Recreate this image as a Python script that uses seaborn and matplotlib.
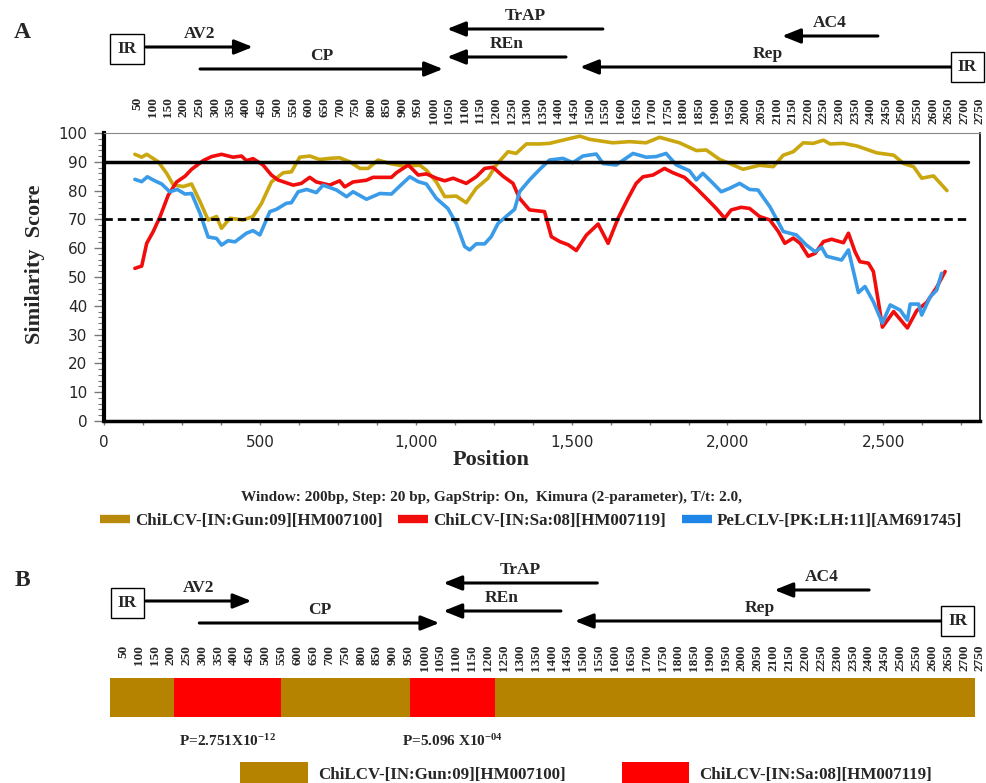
import pandas as pd
import seaborn as sns
import matplotlib.pyplot as plt
from matplotlib.lines import Line2D
from matplotlib.patches import Patch
from matplotlib.ticker import MultipleLocator, FuncFormatter

# similarity plot data (position, score)
gold_pos = [99, 121, 137, 174, 201, 222, 254, 281, 308, 334, 361, 377, 404, 446, 478, 505, 537, 575, 601, 628,
            660, 692, 724, 756, 788, 821, 847, 879, 917, 960, 1013, 1034, 1066, 1093, 1130, 1162, 1194, 1232, 1258, 1296,
            1322, 1355, 1397, 1429, 1483, 1526, 1558, 1632, 1686, 1739, 1782, 1846, 1900, 1932, 1975, 2007, 2050, 2103, 2147, 2179,
            2211, 2243, 2275, 2308, 2329, 2372, 2415, 2479, 2533, 2565, 2597, 2623, 2661, 2704]
gold_score = [92.6, 91.6, 92.6, 90.0, 86.0, 82.0, 81.4, 82.3, 76.2, 69.8, 71.0, 66.9, 70.4, 69.8, 71.0, 75.5, 83.0, 86.2, 86.5, 91.6,
              92.0, 90.8, 91.2, 91.4, 90.0, 87.7, 87.7, 90.6, 89.4, 88.5, 88.8, 87.1, 83.0, 77.9, 78.1, 75.8, 80.8, 84.3, 88.9, 93.5,
              92.9, 96.2, 96.2, 96.4, 97.8, 98.9, 97.8, 96.6, 97.0, 96.6, 98.5, 96.6, 93.9, 94.1, 90.8, 89.4, 87.4, 88.8, 88.3, 92.3,
              93.5, 96.6, 96.4, 97.5, 96.2, 96.4, 95.5, 93.1, 92.3, 89.4, 88.3, 84.3, 85.1, 80.0]

red_pos = [99, 121, 137, 158, 180, 206, 233, 260, 281, 318, 345, 377, 414, 441, 457, 478, 510, 537, 558, 607,
           633, 660, 681, 724, 756, 772, 799, 842, 863, 922, 938, 976, 1008, 1034, 1066, 1093, 1120, 1162, 1194, 1221,
           1248, 1280, 1312, 1333, 1365, 1413, 1435, 1462, 1489, 1515, 1547, 1585, 1617, 1649, 1681, 1707, 1729, 1761, 1798, 1825,
           1862, 1900, 1937, 1964, 1991, 2012, 2044, 2071, 2103, 2136, 2163, 2184, 2211, 2233, 2259, 2281, 2308, 2334, 2372, 2388,
           2409, 2425, 2452, 2468, 2484, 2497, 2533, 2577, 2607, 2639, 2671, 2698]
red_score = [53.0, 53.8, 61.7, 65.8, 71.0, 78.4, 83.0, 85.0, 87.4, 90.4, 91.8, 92.6, 91.6, 92.0, 90.4, 91.1, 88.9, 85.4, 83.7, 81.9,
             82.5, 84.6, 83.0, 81.9, 83.4, 81.3, 83.0, 83.6, 84.6, 84.6, 86.2, 88.9, 85.4, 85.8, 84.3, 83.4, 84.3, 82.5, 84.8, 87.7,
             88.1, 85.0, 82.5, 77.3, 73.3, 72.7, 64.0, 62.3, 61.2, 59.2, 64.5, 68.4, 61.7, 70.4, 77.3, 82.5, 84.8, 85.4, 87.7, 86.2,
             84.6, 80.8, 76.8, 73.8, 70.4, 73.3, 74.2, 73.8, 71.0, 69.8, 65.8, 61.7, 63.5, 61.7, 57.2, 58.2, 62.3, 63.1, 61.9, 65.2,
             58.8, 55.3, 54.8, 51.9, 41.4, 32.6, 38.0, 32.3, 38.3, 41.2, 46.4, 51.9]

blue_pos = [99, 121, 139, 163, 185, 211, 235, 260, 281, 308, 334, 361, 377, 398, 420, 457, 478, 500, 532, 553,
            585, 601, 623, 650, 681, 703, 746, 778, 799, 842, 885, 922, 949, 981, 1008, 1034, 1066, 1103, 1130, 1157,
            1173, 1194, 1221, 1242, 1264, 1290, 1317, 1333, 1365, 1397, 1429, 1472, 1504, 1536, 1579, 1601, 1643, 1697, 1739, 1771,
            1803, 1836, 1878, 1900, 1921, 1954, 1980, 2007, 2039, 2071, 2098, 2136, 2179, 2221, 2253, 2281, 2302, 2318, 2366, 2388,
            2420, 2441, 2468, 2497, 2522, 2554, 2577, 2586, 2613, 2623, 2650, 2671, 2687]
blue_score = [83.9, 83.1, 84.8, 83.4, 82.3, 79.6, 80.4, 78.8, 79.0, 72.1, 63.9, 63.4, 61.1, 62.6, 62.2, 65.2, 66.1, 64.6, 72.7, 73.5,
              75.6, 75.8, 79.6, 80.4, 79.3, 81.9, 80.2, 77.9, 79.6, 77.0, 79.0, 78.8, 81.6, 84.8, 83.1, 82.3, 77.3, 73.8, 68.6, 60.6,
              59.4, 61.5, 61.5, 64.0, 68.6, 71.0, 73.5, 79.6, 83.7, 87.3, 90.6, 91.2, 89.7, 92.0, 92.7, 89.4, 88.9, 92.9, 91.6, 91.8,
              92.9, 88.9, 86.9, 83.7, 86.0, 82.5, 79.6, 80.8, 82.5, 80.4, 80.2, 74.4, 65.8, 64.6, 61.1, 58.8, 60.3, 57.2, 55.9, 59.4,
              44.6, 46.7, 41.4, 34.0, 40.3, 38.5, 35.0, 40.6, 40.6, 36.8, 43.1, 45.4, 51.3]

series_names = ['ChiLCV-[IN:Gun:09][HM007100]', 'ChiLCV-[IN:Sa:08][HM007119]', 'PeLCLV-[PK:LH:11][AM691745]']
series_colors = ['#cba70f', '#f20d0d', '#3a9be8']
legend_colors = ['#b8890a', '#f20d0d', '#1f85e6']
thresholds = [90, 70]

# genome map: gene name, start, end (nt), row
gene_names = ['AV2', 'CP', 'TrAP', 'REn', 'Rep', 'AC4']
gene_start = [79, 252, 1542, 1424, 2670, 2423]
gene_end = [421, 1030, 1043, 1043, 1469, 2116]
gene_row = [47, 69, 29, 57, 67, 36]
ir_center = [18, 2710]
ir_row = [49, 67]
map_ticks = list(range(50, 2800, 50))

# recombination detection bar (panel B)
seg_start = [9, 211, 548, 954, 1222]
seg_end = [211, 548, 954, 1222, 2734]
seg_parent = [0, 1, 0, 1, 0]
bar_colors = ['#b58300', '#ff0000']
pvals = ['P=2.751X10$^{\\mathrm{-12}}$', 'P=5.096 X10$^{\\mathrm{-04}}$']
pval_seg = [1, 3]

sns.set_style('white')
plt.rcParams['font.family'] = ['Liberation Serif', 'DejaVu Serif']
plt.rcParams['font.weight'] = 'bold'
plt.rcParams['mathtext.fontset'] = 'custom'
plt.rcParams['mathtext.rm'] = 'Liberation Serif:bold'
plt.rcParams['mathtext.it'] = 'Liberation Serif:bold:italic'
plt.rcParams['mathtext.bf'] = 'Liberation Serif:bold'

W, H = 987, 783
fig = plt.figure(figsize=(W / 100, H / 100), dpi=100)


def box(x0, y0, x1, y1):
    return [x0 / W, 1 - y1 / H, (x1 - x0) / W, (y1 - y0) / H]


def draw_map(ax):
    ax.set_xlim(50, 2750)
    ax.set_ylim(125, 0)
    ax.axis('off')
    for name, s, e, r in zip(gene_names, gene_start, gene_end, gene_row):
        ax.annotate('', xy=(e, r), xytext=(s, r), annotation_clip=False,
                    arrowprops=dict(arrowstyle='-|>,head_length=0.55,head_width=0.22', lw=2.2,
                                    color='black', shrinkA=0, shrinkB=0, mutation_scale=20))
        ax.text((s + e) / 2, r - 13, name, ha='center', va='center', fontsize=12.5, fontweight='bold')
    for c, r in zip(ir_center, ir_row):
        ax.text(c, r, 'IR', ha='center', va='center', fontsize=12.5, fontweight='bold', clip_on=False,
                bbox=dict(boxstyle='square,pad=0.4', fc='white', ec='black', lw=1))


# ---------- panel A ----------
gmap_a = fig.add_axes(box(137, 0, 980, 125))
draw_map(gmap_a)
for t in map_ticks:
    gmap_a.text(t, 97, str(t), rotation=90, ha='center', va='top', fontsize=9.5, fontweight='bold')

ax = fig.add_axes(box(104, 133, 980, 421))
df = pd.concat([
    pd.DataFrame({'pos': p, 'score': s, 'series': n})
    for p, s, n in zip([gold_pos, red_pos, blue_pos], [gold_score, red_score, blue_score], series_names)
])
sns.lineplot(data=df, x='pos', y='score', hue='series', palette=dict(zip(series_names, series_colors)),
             lw=2.6, estimator=None, legend=False, ax=ax, zorder=2)
ax.plot([0, 2770], [thresholds[0]] * 2, color='black', lw=2.5, zorder=3)
ax.plot([0, 2770], [thresholds[1]] * 2, color='black', lw=2, ls=(0, (3, 1.8)), zorder=3)

ax.set_xlim(0, 2810)
ax.set_ylim(0, 100)
ax.xaxis.set_major_locator(MultipleLocator(500))
ax.xaxis.set_minor_locator(MultipleLocator(125))
ax.yaxis.set_major_locator(MultipleLocator(10))
ax.yaxis.set_minor_locator(MultipleLocator(2))
ax.xaxis.set_major_formatter(FuncFormatter(lambda v, p: f'{int(v):,}'))
ax.tick_params(axis='x', which='both', direction='out', length=3, width=1, color='#777777', pad=7, bottom=True)
ax.tick_params(axis='y', which='major', direction='out', length=7, width=1, color='#777777', pad=5, left=True)
ax.tick_params(axis='y', which='minor', direction='out', length=4, width=0.8, color='#777777', left=True)
for lab in ax.get_xticklabels() + ax.get_yticklabels():
    lab.set_fontfamily('DejaVu Sans')
    lab.set_fontweight('normal')
    lab.set_fontsize(11)
for side, lw, col in [('left', 3, 'black'), ('bottom', 2.5, 'black'), ('top', 0.8, '#888888'), ('right', 1.2, 'black')]:
    ax.spines[side].set_linewidth(lw)
    ax.spines[side].set_color(col)
ax.set_xlabel('Position', fontsize=16, fontweight='bold')
ax.set_ylabel('Similarity  Score', fontsize=16, fontweight='bold')
ax.xaxis.set_label_coords(0.442, -0.1)
ax.yaxis.set_label_coords(-0.067, 0.545)

fig.text(0.4975, 1 - 497 / H, 'Window: 200bp, Step: 20 bp, GapStrip: On,  Kimura (2-parameter), T/t: 2.0,',
         ha='center', va='center', fontsize=11, fontweight='bold')
handles = [Line2D([], [], color=c, lw=6, solid_capstyle='butt') for c in legend_colors]
fig.legend(handles, series_names, loc='center', bbox_to_anchor=(0.538, 1 - 521 / H), ncol=3, frameon=False,
           handlelength=1.8, handletextpad=0.3, columnspacing=0.9,
           prop=dict(family='Liberation Serif', weight='bold', size=12.2))

fig.text(22 / W, 1 - 32 / H, 'A', ha='center', va='center', fontsize=17, fontweight='bold')
fig.text(22 / W, 1 - 580 / H, 'B', ha='center', va='center', fontsize=17, fontweight='bold')

# ---------- panel B ----------
gmap_b = fig.add_axes(box(137, 554, 970, 679))
draw_map(gmap_b)

bar_ax = fig.add_axes(box(123, 678, 980, 717))
bar_ax.set_xlim(50, 2750)
bar_ax.set_ylim(0, 1)
bar_ax.axis('off')
for s, e, p in zip(seg_start, seg_end, seg_parent):
    bar_ax.barh(0.5, e - s, left=s, height=1, color=bar_colors[p], linewidth=0, clip_on=False)
trans = bar_ax.get_xaxis_transform()
for t in map_ticks:
    bar_ax.text(t, 1.85, str(t), rotation=90, ha='center', va='top', fontsize=9.5, fontweight='bold', transform=trans)
for txt, i in zip(pvals, pval_seg):
    bar_ax.text((seg_start[i] + seg_end[i]) / 2, -0.62, txt, ha='center', va='center', fontsize=11,
                fontweight='bold', transform=trans)

patches = [Patch(color=c, linewidth=0) for c in bar_colors]
fig.legend(patches, series_names[:2], loc='center', bbox_to_anchor=(0.594, 1 - 773 / H), ncol=2, frameon=False,
           handlelength=4, handleheight=1.7, handletextpad=0.6, columnspacing=3.3,
           prop=dict(family='Liberation Serif', weight='bold', size=12.2))

fig.savefig('out.png', dpi=100)
